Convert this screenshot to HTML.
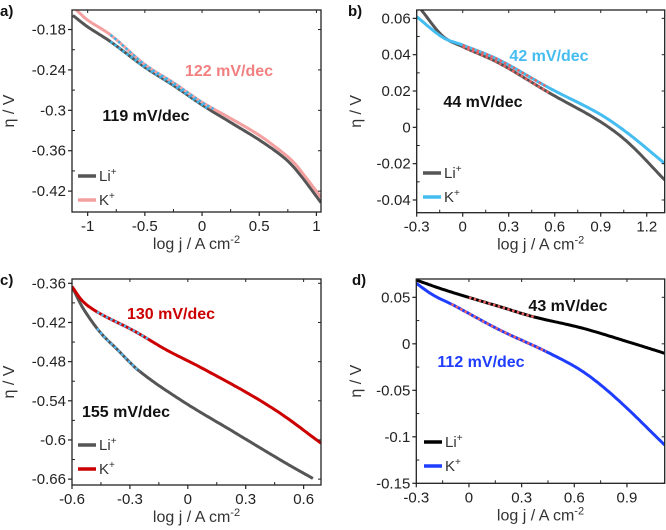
<!DOCTYPE html>
<html><head><meta charset="utf-8">
<style>
html,body{margin:0;padding:0;background:#fff;}
svg{display:block;font-family:"Liberation Sans","DejaVu Sans",sans-serif;}
</style></head>
<body>
<svg id="fig" width="666" height="530" viewBox="0 0 666 530" xmlns="http://www.w3.org/2000/svg"></svg>
<script>
// Panel a
const aLiX = [-1.13,-1.0,-0.8,-0.5,-0.25,0,0.25,0.5,0.7,0.8,0.9,1.04];
const aLiY = [-0.159,-0.176,-0.198,-0.236,-0.263,-0.292,-0.318,-0.344,-0.368,-0.384,-0.405,-0.437];
const aKX = [-1.1,-1.0,-0.8,-0.5,-0.25,0,0.25,0.5,0.7,0.8,0.9,1.04];
const aKY = [-0.151,-0.166,-0.188,-0.232,-0.259,-0.288,-0.312,-0.337,-0.362,-0.377,-0.398,-0.429];
const aFitLi = [-0.8,0.05];
const aFitK = [-0.8,0.1];
const aXTicks = [-1,-0.5,0,0.5,1];
const aXLabels = ["-1","-0.5","0","0.5","1"];
const aYTicks = [-0.18,-0.24,-0.3,-0.36,-0.42];
const aYLabels = ["-0.18","-0.24","-0.3","-0.36","-0.42"];
// Panel b
const bLiX = [-0.27,-0.13,0,0.24,0.57,0.89,1.08,1.317];
const bLiY = [0.0646,0.0502,0.0444,0.0352,0.0187,0.0035,-0.0085,-0.029];
const bKX = [-0.3,-0.13,0,0.24,0.57,0.89,1.08,1.317];
const bKY = [0.0609,0.0495,0.0453,0.037,0.0214,0.0075,-0.0035,-0.0199];
const bFitLi = [0,0.57];
const bFitK = [0,0.55];
const bXTicks = [-0.3,0,0.3,0.6,0.9,1.2];
const bXLabels = ["-0.3","0","0.3","0.6","0.9","1.2"];
const bYTicks = [0.06,0.04,0.02,0,-0.02,-0.04];
const bYLabels = ["0.06","0.04","0.02","0","-0.02","-0.04"];
// Panel c
const cLiX = [-0.6,-0.543,-0.457,-0.37,-0.249,-0.025,0.234,0.493,0.648];
const cLiY = [-0.365,-0.398,-0.434,-0.46,-0.495,-0.541,-0.587,-0.633,-0.659];
const cKX = [-0.6,-0.543,-0.457,-0.284,-0.111,0.061,0.32,0.493,0.69];
const cKY = [-0.365,-0.388,-0.406,-0.432,-0.462,-0.488,-0.530,-0.562,-0.605];
const cFitLi = [-0.47,-0.25];
const cFitK = [-0.47,-0.2];
const cXTicks = [-0.6,-0.3,0,0.3,0.6];
const cXLabels = ["-0.6","-0.3","0","0.3","0.6"];
const cYTicks = [-0.36,-0.42,-0.48,-0.54,-0.6,-0.66];
const cYLabels = ["-0.36","-0.42","-0.48","-0.54","-0.6","-0.66"];
// Panel d
const dLiX = [-0.3,-0.167,-0.015,0.175,0.365,0.649,0.934,1.115];
const dLiY = [0.0686,0.0597,0.0507,0.040,0.0292,0.0167,0.0005,-0.0102];
const dKX = [-0.3,-0.205,-0.091,0.175,0.44,0.649,0.839,1.115];
const dKY = [0.065,0.0525,0.0418,0.0149,-0.0084,-0.0299,-0.0586,-0.1088];
const dFitLi = [0,0.37];
const dFitK = [-0.1,0.44];
const dXTicks = [-0.3,0,0.3,0.6,0.9];
const dXLabels = ["-0.3","0","0.3","0.6","0.9"];
const dYTicks = [0.05,0,-0.05,-0.1,-0.15];
const dYLabels = ["0.05","0","-0.05","-0.1","-0.15"];

const NS="http://www.w3.org/2000/svg";
const svg=document.getElementById('fig');
function mk(tag,attrs,parent){const e=document.createElementNS(NS,tag);for(const k in attrs)e.setAttribute(k,attrs[k]);(parent||svg).appendChild(e);return e;}
function spline(xs,ys,x){
  let i=0;
  if(x<=xs[0])return ys[0];
  if(x>=xs[xs.length-1])return ys[ys.length-1];
  while(i<xs.length-2&&x>xs[i+1])i++;
  const x0=xs[i],x1=xs[i+1],y0=ys[i],y1=ys[i+1],h=x1-x0;
  const slope=(a,b)=>(ys[b]-ys[a])/(xs[b]-xs[a]);
  const m0=i>0?slope(i-1,i+1):slope(i,i+1);
  const m1=i+2<xs.length?slope(i,i+2):slope(i,i+1);
  const t=(x-x0)/h,t2=t*t,t3=t2*t;
  return (2*t3-3*t2+1)*y0+(t3-2*t2+t)*h*m0+(-2*t3+3*t2)*y1+(t3-t2)*h*m1;
}

function panel(p){
  const g=mk('g',{});
  
  
  const sx=v=>p.L+(v-p.x0)/(p.x1-p.x0)*(p.R-p.L);
  const sy=v=>p.T+(p.y0-v)/(p.y0-p.y1)*(p.B-p.T);
  const clipId='clip'+p.id;
  const cp=mk('clipPath',{id:clipId},g);mk('rect',{x:p.L,y:p.T,width:p.R-p.L,height:p.B-p.T},cp);
  function curve(xs,ys,a,b,n){
    const pts=[];for(let i=0;i<=n;i++){const x=a+(b-a)*i/n;pts.push((i?'L':'M')+sx(x).toFixed(1)+','+sy(spline(xs,ys,x)).toFixed(1));}
    return pts.join(' ');
  }
  function line(xs,ys,color,name){
    const e=mk('path',{d:curve(xs,ys,xs[0],xs[xs.length-1],120),fill:'none',stroke:color,'stroke-width':3,'stroke-linejoin':'round','clip-path':'url(#'+clipId+')'},g);
    
    
  }
  function fit(xs,ys,range,color,name){
    const e=mk('path',{d:curve(xs,ys,range[0],range[1],30),fill:'none',stroke:color,'stroke-width':2.4,'stroke-dasharray':'2.5,2.5'},g);
    
    
  }
  line(p.liX,p.liY,p.liC,'li-series-line');
  line(p.kX,p.kY,p.kC,'k-series-line');
  fit(p.liX,p.liY,p.fitLi,p.fitC,'li-fit-line');
  fit(p.kX,p.kY,p.fitK,p.fitC,'k-fit-line');
  const fr=mk('rect',{x:p.L,y:p.T,width:p.R-p.L,height:p.B-p.T,fill:'none',stroke:'#222','stroke-width':1.3},g);
  
  
  p.xt.forEach((v,i)=>{
    const x=sx(v);
    mk('line',{x1:x,y1:p.B,x2:x,y2:p.B+4,stroke:'#222','stroke-width':1.2},g);
    mk('line',{x1:x,y1:p.T,x2:x,y2:p.T+3,stroke:'#222','stroke-width':1},g);
    const t=mk('text',{x:x,y:p.B+19,'text-anchor':'middle','font-size':15,fill:'#222'},g);
    t.textContent=p.xl[i];
    
    
    if(i<p.xt.length-1){const m=sx((v+p.xt[i+1])/2);mk('line',{x1:m,y1:p.B,x2:m,y2:p.B-3,stroke:'#222','stroke-width':1},g);}
  });
  p.yt.forEach((v,i)=>{
    const y=sy(v);
    mk('line',{x1:p.L-4,y1:y,x2:p.L,y2:y,stroke:'#222','stroke-width':1.2},g);
    mk('line',{x1:p.R-3,y1:y,x2:p.R,y2:y,stroke:'#222','stroke-width':1},g);
    const t=mk('text',{x:p.L-6,y:y+5,'text-anchor':'end','font-size':15,fill:'#222'},g);
    t.textContent=p.yl[i];
    
    
    if(i<p.yt.length-1){const m=sy((v+p.yt[i+1])/2);mk('line',{x1:p.L,y1:m,x2:p.L+3,y2:m,stroke:'#222','stroke-width':1},g);}
  });
  const xt=mk('text',{x:(p.L+p.R)/2,y:p.B+37,'text-anchor':'middle','font-size':16,fill:'#333'},g);
  xt.innerHTML='log j / A cm<tspan dy="-6" font-size="11">-2</tspan>';
  
  
  const yx=p.yTitleX, yy=(p.T+p.B)/2;
  const yt=mk('text',{x:yx,y:yy,'text-anchor':'middle','font-size':16,fill:'#333',transform:'rotate(-90 '+yx+' '+yy+')'},g);
  yt.textContent='η / V';
  
  
  const pl=mk('text',{x:p.lab[0],y:p.lab[1],'font-size':15,'font-weight':'bold',fill:'#111'},g);
  pl.textContent=p.id+')';
  
  
  p.ann.forEach(a=>{
    const t=mk('text',{x:a[0],y:a[1],'text-anchor':'middle','font-size':16,'font-weight':'bold',fill:a[3]},g);
    t.textContent=a[2];
    
    
  });
  [[p.liC,'Li'],[p.kC,'K']].forEach((e,i)=>{
    const y=p.leg[1]+i*24;
    const lg=mk('g',{},g);
    
    
    mk('line',{x1:p.leg[0],y1:y,x2:p.leg[0]+18,y2:y,stroke:e[0],'stroke-width':3.5},lg);
    const t=mk('text',{x:p.leg[0]+21,y:y+5,'font-size':15,fill:'#333'},lg);
    t.innerHTML=e[1]+'<tspan dy="-6" font-size="10">+</tspan>';
  });
}

panel({id:'a',L:72,R:321,T:10,B:212,x0:-1.137,x1:1.04,y0:-0.151,y1:-0.451,
  liX:aLiX,liY:aLiY,kX:aKX,kY:aKY,fitLi:aFitLi,fitK:aFitK,liC:'#555',kC:'#f5a0a0',fitC:'#3cb4e8',
  xt:aXTicks,xl:aXLabels,yt:aYTicks,yl:aYLabels,yTitleX:14,lab:[0,16],
  ann:[[229,76,'122 mV/dec','#f28080'],[146,121,'119 mV/dec','#111']],leg:[78,176]});
panel({id:'b',L:416.7,R:664.7,T:10,B:212.7,x0:-0.3,x1:1.317,y0:0.0646,y1:-0.047,
  liX:bLiX,liY:bLiY,kX:bKX,kY:bKY,fitLi:bFitLi,fitK:bFitK,liC:'#555',kC:'#45bdf0',fitC:'#f06060',
  xt:bXTicks,xl:bXLabels,yt:bYTicks,yl:bYLabels,yTitleX:361,lab:[348,16],
  ann:[[549,61,'42 mV/dec','#45bdf0'],[483,107,'44 mV/dec','#111']],leg:[423,173]});
panel({id:'c',L:72,R:321,T:279,B:485,x0:-0.6,x1:0.69,y0:-0.3534,y1:-0.669,
  liX:cLiX,liY:cLiY,kX:cKX,kY:cKY,fitLi:cFitLi,fitK:cFitK,liC:'#555',kC:'#cc0000',fitC:'#50b8f0',
  xt:cXTicks,xl:cXLabels,yt:cYTicks,yl:cYLabels,yTitleX:14,lab:[0,285],
  ann:[[171,319,'130 mV/dec','#cc0000'],[126,417,'155 mV/dec','#111']],leg:[78,445]});
panel({id:'d',L:416.3,R:664.7,T:279,B:483.3,x0:-0.3,x1:1.115,y0:0.0697,y1:-0.15,
  liX:dLiX,liY:dLiY,kX:dKX,kY:dKY,fitLi:dFitLi,fitK:dFitK,liC:'#000',kC:'#1f3dff',fitC:'#f06060',
  xt:dXTicks,xl:dXLabels,yt:dYTicks,yl:dYLabels,yTitleX:361,lab:[352,285],
  ann:[[568,311,'43 mV/dec','#111'],[481,367,'112 mV/dec','#1f3dff']],leg:[424,442]});
</script>
</body></html>
